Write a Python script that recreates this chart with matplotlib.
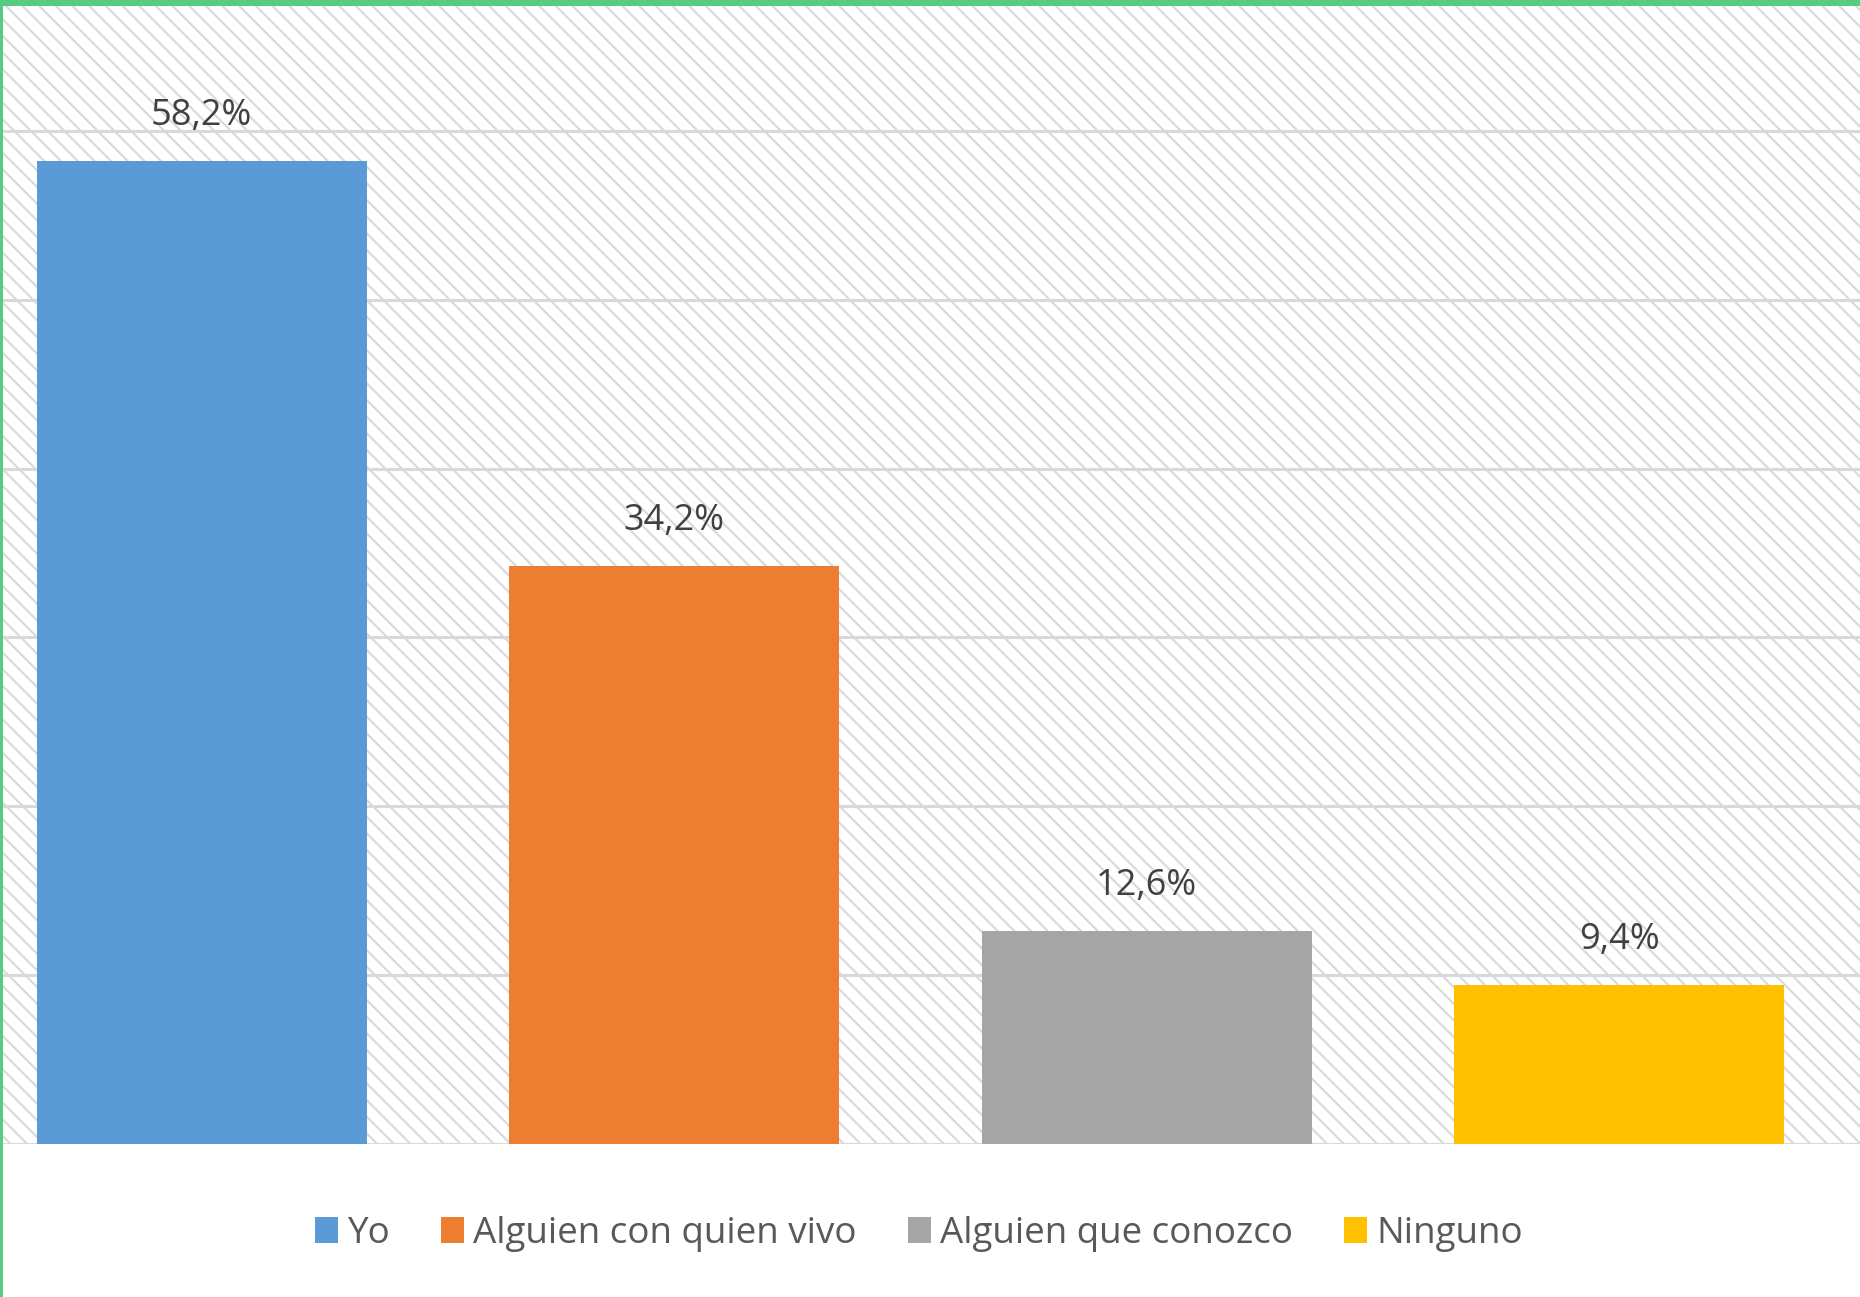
import matplotlib.pyplot as plt
from matplotlib.patches import Rectangle, Patch

# Data
categories = ['Yo', 'Alguien con quien vivo', 'Alguien que conozco', 'Ninguno']
values = [58.2, 34.2, 12.6, 9.4]
colors = ['#5b9bd5', '#ed7d31', '#a5a5a5', '#ffc000']

plt.rcParams['font.family'] = ['Open Sans', 'DejaVu Sans']
plt.rcParams['hatch.linewidth'] = 1.5

W, H = 1860, 1297
fig = plt.figure(figsize=(W / 100, H / 100), dpi=100)

# plot area (cropped Excel chart)
base_px = 1143.5
ax = fig.add_axes([0, 1 - base_px / H, 1, base_px / H])
px_per_pct = (base_px - 131) / 60
ax.set_ylim(0, base_px / px_per_pct)
ax.set_xlim(-201.6 / 472.5, (W - 201.6) / 472.5)

# hatched background
ax.add_patch(Rectangle((0, 0), 1, 1, transform=ax.transAxes, facecolor='white',
                       edgecolor='#d9d9d9', hatch='\\\\', linewidth=0, zorder=0))

ax.set_yticks(range(0, 61, 10))
ax.yaxis.grid(True, color='#d9d9d9', linewidth=2.2)
ax.set_axisbelow(True)
ax.tick_params(left=False, bottom=False, labelleft=False, labelbottom=False)
for s in ax.spines.values():
    s.set_visible(False)

x = range(len(values))
bars = ax.bar(x, values, width=0.698, color=colors, zorder=2)

for i, v in enumerate(values):
    ax.annotate(f"{v:.1f}%".replace('.', ','), (i, v), xytext=(0, 26),
                textcoords='offset points', ha='center', va='baseline',
                fontsize=26, color='#404040')

handles = [Patch(facecolor=c, edgecolor='none') for c in colors]
fig.legend(handles, categories, loc='center', ncol=4, frameon=False,
           bbox_to_anchor=(919 / W, 1 - 1234 / H), fontsize=26.5,
           labelcolor='#595959', handlelength=0.62, handleheight=0.7,
           handletextpad=0.24, columnspacing=1.4)

# green border (top and left)
fig.add_artist(Rectangle((0, 1 - 5.5 / H), 1, 5.5 / H, transform=fig.transFigure,
                         facecolor='#57cb80', edgecolor='none', zorder=10))
fig.add_artist(Rectangle((0, 0), 3 / W, 1, transform=fig.transFigure,
                         facecolor='#57cb80', edgecolor='none', zorder=10))

fig.savefig('out.png', dpi=100, facecolor='white')
